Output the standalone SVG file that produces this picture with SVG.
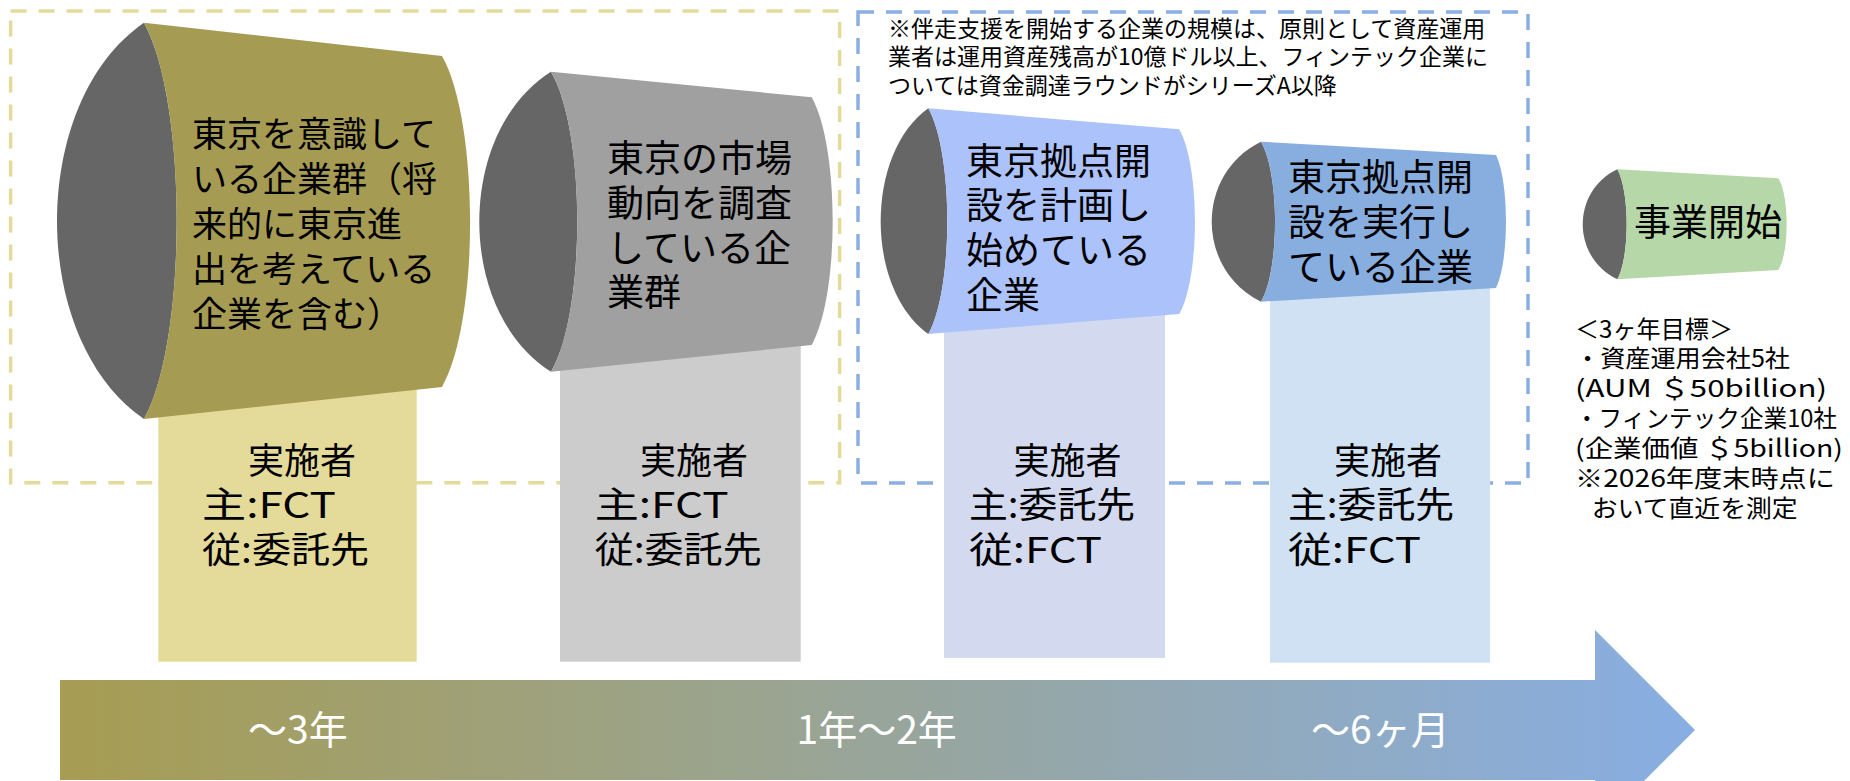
<svg xmlns="http://www.w3.org/2000/svg" width="1850" height="781" viewBox="0 0 1850 781">
  <defs>
    <linearGradient id="tl" gradientUnits="userSpaceOnUse" x1="60" y1="0" x2="1695" y2="0">
      <stop offset="0" stop-color="#A69C52"/>
      <stop offset="0.5" stop-color="#98A59A"/>
      <stop offset="1" stop-color="#88AEE3"/>
    </linearGradient>
    <style>
      text { font-family: 'Noto Sans CJK JP', 'Noto Sans', sans-serif; fill: #000; }
      .dark { fill: #666666; }
      .big { font-size: 37px; }
      .n1t { font-size: 35px; }
      .sup { font-size: 36px; }
      .note { font-size: 23px; }
      .goal { font-size: 24px; }
      .tl { font-size: 39px; fill: #FFFFFF; }
      .frame { fill: none; stroke-width: 3.5; stroke-dasharray: 16 12; }
    </style>
  </defs>
  <rect x="0" y="0" width="1850" height="781" fill="#FFFFFF"/>

  <g id="frames">
    <rect class="frame" x="10.6" y="11" width="829" height="471.7" stroke="#E4DB9A"/>
    <rect class="frame" x="858" y="12" width="670" height="471" stroke="#8AAFE2"/>
  </g>

  <g id="note">
    <text class="note" x="888" y="36.5">※伴走支援を開始する企業の規模は、原則として資産運用</text>
    <text class="note" x="888" y="65">業者は運用資産残高が10億ドル以上、フィンテック企業に</text>
    <text class="note" x="888" y="94">ついては資金調達ラウンドがシリーズA以降</text>
  </g>

  <g id="node1">
    <rect x="158.3" y="385" width="258.4" height="276.7" fill="#E4DB9A"/>
    <path class="dark" d="M144,22.7 C28,102 28,340 144,419 C187.6,340 187.6,102 144,22.7 Z"/>
    <path fill="#A69B52" d="M144,22.7 L442,56 C479.5,122 479.5,321 442,387 L144,419 C187.6,340 187.6,102 144,22.7 Z"/>
    <text class="n1t" x="192" y="147">東京を意識して</text>
    <text class="n1t" x="192" y="192">いる企業群（将</text>
    <text class="n1t" x="192" y="237">来的に東京進</text>
    <text class="n1t" x="192" y="282">出を考えている</text>
    <text class="n1t" x="192" y="327">企業を含む）</text>
    <text class="sup" x="248" y="474">実施者</text>
    <text class="sup" x="202" y="517.5" textLength="134" lengthAdjust="spacingAndGlyphs">主:FCT</text>
    <text class="sup" x="202" y="563" textLength="167" lengthAdjust="spacingAndGlyphs">従:委託先</text>
  </g>

  <g id="node2">
    <rect x="560" y="340" width="240.7" height="321.7" fill="#CCCCCC"/>
    <path class="dark" d="M551,71.7 C455.4,131.7 455.4,311.7 551,371.7 C586,311.7 586,131.7 551,71.7 Z"/>
    <path fill="#A0A0A0" d="M551,71.7 L811.7,97.3 C839.7,147 839.7,295 811.7,345 L551,371.7 C586,311.7 586,131.7 551,71.7 Z"/>
    <text class="big" x="607" y="172">東京の市場</text>
    <text class="big" x="607" y="217">動向を調査</text>
    <text class="big" x="607" y="262">している企</text>
    <text class="big" x="607" y="306">業群</text>
    <text class="sup" x="640" y="474">実施者</text>
    <text class="sup" x="594.7" y="517.5" textLength="134" lengthAdjust="spacingAndGlyphs">主:FCT</text>
    <text class="sup" x="594.7" y="563" textLength="167" lengthAdjust="spacingAndGlyphs">従:委託先</text>
  </g>

  <g id="node3">
    <rect x="944" y="310" width="221" height="348" fill="#D3D9EE"/>
    <path class="dark" d="M928.3,108.3 C864.8,153.3 864.8,289 928.3,334 C953.6,289 953.6,153.3 928.3,108.3 Z"/>
    <path fill="#ABC2FA" d="M928.3,108.3 L1179.3,129.3 C1200.2,166.3 1200.2,277 1179.3,314 L928.3,334 C953.6,289 953.6,153.3 928.3,108.3 Z"/>
    <text class="big" x="966" y="174.5">東京拠点開</text>
    <text class="big" x="966" y="219">設を計画し</text>
    <text class="big" x="966" y="264">始めている</text>
    <text class="big" x="966" y="309">企業</text>
    <text class="sup" x="1013.5" y="474">実施者</text>
    <text class="sup" x="969" y="517.5" textLength="166" lengthAdjust="spacingAndGlyphs">主:委託先</text>
    <text class="sup" x="969" y="563" textLength="133" lengthAdjust="spacingAndGlyphs">従:FCT</text>
  </g>

  <g id="node4">
    <rect x="1270" y="285" width="220" height="377.7" fill="#CFE1F3"/>
    <path class="dark" d="M1261,141.7 C1195.3,173.7 1195.3,269.7 1261,301.7 C1279.7,269.7 1279.7,173.7 1261,141.7 Z"/>
    <path fill="#88AEE0" d="M1261,141.7 L1496,155 C1509.3,182 1509.3,261 1496,288 L1261,301.7 C1279.7,269.7 1279.7,173.7 1261,141.7 Z"/>
    <text class="big" x="1288" y="190.5">東京拠点開</text>
    <text class="big" x="1288" y="235.5">設を実行し</text>
    <text class="big" x="1288" y="280.5">ている企業</text>
    <text class="sup" x="1334" y="474">実施者</text>
    <text class="sup" x="1288" y="517.5" textLength="166" lengthAdjust="spacingAndGlyphs">主:委託先</text>
    <text class="sup" x="1288" y="563" textLength="133" lengthAdjust="spacingAndGlyphs">従:FCT</text>
  </g>

  <g id="node5">
    <path class="dark" d="M1617.3,169.3 C1571.2,191.3 1571.2,257.3 1617.3,279.3 C1629.8,257.3 1629.8,191.3 1617.3,169.3 Z"/>
    <path fill="#B6D7A8" d="M1617.3,169.3 L1778.3,178.3 C1789.5,196.3 1789.5,252 1778.3,270 L1617.3,279.3 C1629.8,257.3 1629.8,191.3 1617.3,169.3 Z"/>
    <text class="big" x="1634" y="235.5">事業開始</text>
  </g>

  <g id="goals">
    <text class="goal" x="1575" y="338" textLength="158" lengthAdjust="spacingAndGlyphs">＜3ヶ年目標＞</text>
    <text class="goal" x="1575" y="367" textLength="215" lengthAdjust="spacingAndGlyphs">・資産運用会社5社</text>
    <text class="goal" x="1575" y="396.5" textLength="252" lengthAdjust="spacingAndGlyphs">(AUM ＄50billion)</text>
    <text class="goal" x="1575" y="427" textLength="262" lengthAdjust="spacingAndGlyphs">・フィンテック企業10社</text>
    <text class="goal" x="1575" y="457" textLength="268" lengthAdjust="spacingAndGlyphs">(企業価値 ＄5billion)</text>
    <text class="goal" x="1575" y="487" textLength="260" lengthAdjust="spacingAndGlyphs">※2026年度末時点に</text>
    <text class="goal" x="1591.7" y="517" textLength="206" lengthAdjust="spacingAndGlyphs">おいて直近を測定</text>
  </g>

  <g id="connectors">
    <path id="timeline" fill="url(#tl)" d="M60,680 L1595,680 L1595,630 L1695,730 L1595,830 L1595,780 L60,780 Z"/>
    <text class="tl" x="248" y="744">～3年</text>
    <text class="tl" x="796.5" y="744">1年～2年</text>
    <text class="tl" x="1311" y="744">～6ヶ月</text>
  </g>
</svg>
